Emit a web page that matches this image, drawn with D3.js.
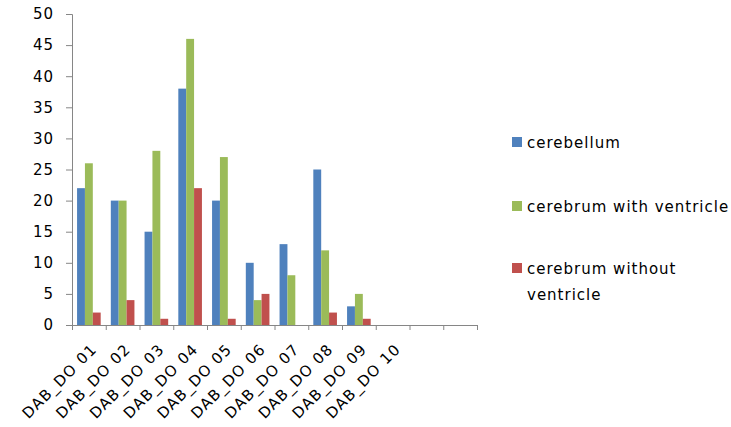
<!DOCTYPE html>
<html><head><meta charset="utf-8">
<script src="https://cdnjs.cloudflare.com/ajax/libs/d3/7.8.5/d3.min.js"></script>
<style>body{margin:0;background:#fff}svg{display:block}</style>
</head><body>
<svg id="c" width="731" height="427"></svg>
<script>
const categories = ["DAB_DO 01","DAB_DO 02","DAB_DO 03","DAB_DO 04","DAB_DO 05","DAB_DO 06","DAB_DO 07","DAB_DO 08","DAB_DO 09","DAB_DO 10","",""];
const seriesNames = ["cerebellum","cerebrum with ventricle","cerebrum without ventricle"];
const cerebellum = [22,20,15,38,20,10,13,25,3,0,null,null];
const cerebrumWith = [26,20,28,46,27,4,8,12,5,0,null,null];
const cerebrumWithout = [2,4,1,22,1,5,0,2,1,0,null,null];
const yTicks = [0,5,10,15,20,25,30,35,40,45,50];
const colors = ["#4F81BD","#9BBB59","#C0504D"];
const series = [cerebellum, cerebrumWith, cerebrumWithout];

const svg = d3.select("#c");
const font = "'DejaVu Sans', sans-serif";
const fs = 15, ls = 1;
const pLeft = 72, pRight = 477, pTop = 14, pBottom = 325;

const x = d3.scaleBand().domain(d3.range(categories.length)).range([pLeft, pRight]).paddingInner(0.3).paddingOuter(0.15);
const y = d3.scaleLinear().domain([0,50]).range([pBottom, pTop]);
const xs = d3.scaleBand().domain([0,1,2]).range([0, x.bandwidth()]);

// bars
series.forEach((s, si) => {
  svg.append("g").selectAll("rect").data(s.map((v,i)=>({v,i})).filter(d=>d.v!=null && d.v>0))
    .enter().append("rect")
    .attr("x", d => x(d.i) + xs(si))
    .attr("y", d => y(d.v))
    .attr("width", xs.bandwidth())
    .attr("height", d => y(0) - y(d.v))
    .attr("fill", colors[si]);
});

// y axis
const yAxis = svg.append("g").attr("transform", `translate(${pLeft},0)`)
  .call(d3.axisLeft(y).tickValues(yTicks).tickSize(6).tickPadding(12));
yAxis.select(".domain").attr("stroke","#868686");
yAxis.selectAll(".tick line").attr("stroke","#868686");
yAxis.selectAll("text").attr("font-family", font).attr("font-size", fs).attr("letter-spacing", ls).attr("fill","#000");

// x axis
const xEdge = d3.scaleLinear().domain([0, categories.length]).range([pLeft, pRight]);
const xAxis = svg.append("g").attr("transform", `translate(0,${pBottom})`)
  .call(d3.axisBottom(xEdge).tickValues(d3.range(categories.length+1)).tickSize(5).tickFormat(""));
xAxis.select(".domain").attr("stroke","#868686");
xAxis.selectAll(".tick line").attr("stroke","#868686");

svg.append("g").selectAll("text").data(categories).enter().append("text")
  .attr("transform", (d,i) => `translate(${x(i)+x.bandwidth()/2+9},${pBottom+25}) rotate(-45)`)
  .attr("text-anchor","end")
  .attr("font-family", font).attr("font-size", fs).attr("letter-spacing", 1.3).attr("fill","#000")
  .text(d => d);

// legend
const legY = [142, 206, 268];
const lg = svg.append("g").attr("font-family",font).attr("font-size",fs).attr("letter-spacing",ls).attr("fill","#000");
seriesNames.forEach((n, i) => {
  lg.append("rect").attr("x", 512).attr("y", legY[i]-5).attr("width", 10).attr("height", 10).attr("fill", colors[i]);
});
lg.append("text").attr("x",527).attr("y",148).text(seriesNames[0]);
lg.append("text").attr("x",527).attr("y",212).text(seriesNames[1]);
const t3 = lg.append("text").attr("x",527).attr("y",274);
t3.append("tspan").attr("x",527).text("cerebrum without");
t3.append("tspan").attr("x",527).attr("dy",26).text("ventricle");
</script>
</body></html>
